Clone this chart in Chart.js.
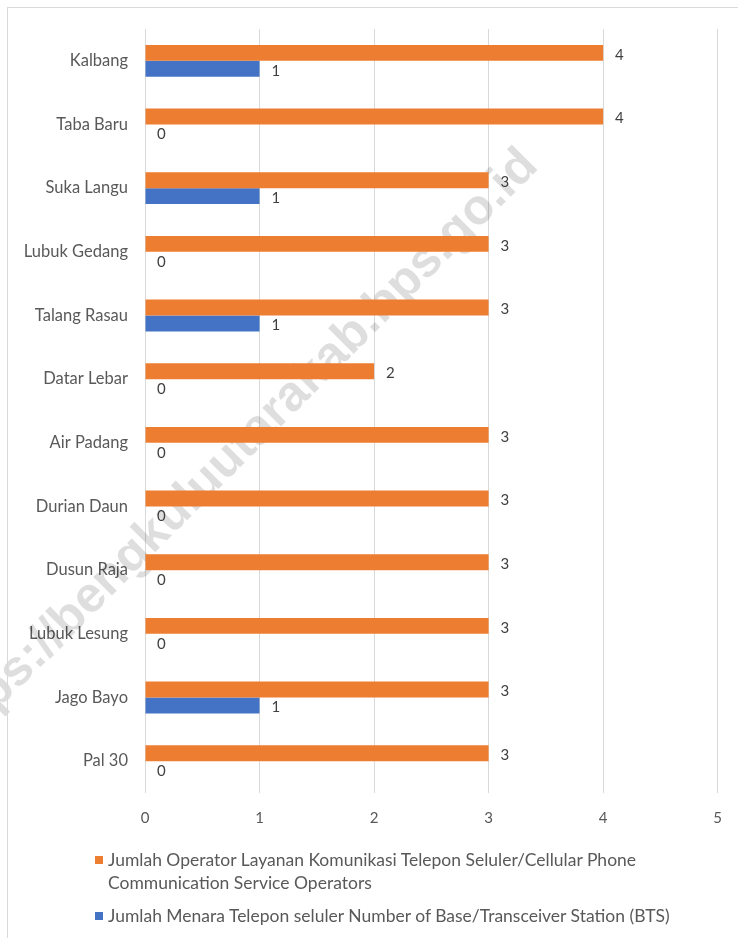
<!DOCTYPE html>
<html>
<head>
<meta charset="utf-8">
<script src="https://cdn.jsdelivr.net/npm/chart.js@4.4.1/dist/chart.umd.min.js"></script>
<style>
  html, body { margin: 0; padding: 0; background: #fff; }
  #wrap { position: relative; width: 738px; height: 938px; overflow: hidden; }
  #frame { position: absolute; left: 7px; top: 7px; right: -2px; bottom: -2px;
           border-top: 1px solid #d9d9d9; border-left: 1px solid #d9d9d9; pointer-events: none; }
  canvas { position: absolute; left: 0; top: 0; }
  #legend { position: absolute; left: 95px; top: 848px; width: 615px;
            font-family: Lato, "Liberation Sans", sans-serif; font-size: 17.5px; color: #595959; }
  .item { display: flex; align-items: flex-start; margin-bottom: 10px; }
  .sw { width: 8px; height: 8px; margin-top: 8px; margin-right: 5px; flex: none; }
  .txt { line-height: 23px; }
</style>
</head>
<body>
<div id="wrap">
  <canvas id="c" width="738" height="938"></canvas>
  <div id="frame"></div>
  <div id="legend"></div>
</div>
<script>
const categories = ['Kalbang','Taba Baru','Suka Langu','Lubuk Gedang','Talang Rasau','Datar Lebar','Air Padang','Durian Daun','Dusun Raja','Lubuk Lesung','Jago Bayo','Pal 30'];
const operatorCounts = [4,4,3,3,3,2,3,3,3,3,3,3];
const btsCounts = [1,0,1,0,1,0,0,0,0,0,1,0];
const seriesLabels = [
  'Jumlah Operator Layanan Komunikasi Telepon Seluler/Cellular Phone Communication Service Operators',
  'Jumlah Menara Telepon seluler Number of Base/Transceiver Station (BTS)'
];
const seriesColors = ['#ED7D31', '#4472C4'];
const xMin = 0, xMax = 5, xStep = 1;
const watermarkText = 'https://bengkuluutarakab.bps.go.id';

const FONT = 'Lato, "Liberation Sans", sans-serif';
const TEXT = '#595959';

const watermark = {
  id: 'watermark',
  beforeDatasetsDraw(chart) {
    const ctx = chart.ctx;
    ctx.save();
    ctx.translate(530, 158);
    ctx.rotate(-45 * Math.PI / 180);
    ctx.font = 'bold 50px "Liberation Sans", Arial, sans-serif';
    ctx.fillStyle = 'rgba(0,0,0,0.13)';
    ctx.textAlign = 'right';
    ctx.textBaseline = 'middle';
    ctx.fillText(watermarkText, 0, 0);
    ctx.restore();
  }
};

const valueLabels = {
  id: 'valueLabels',
  afterDatasetsDraw(chart) {
    const ctx = chart.ctx;
    ctx.save();
    ctx.font = '15px ' + FONT;
    ctx.fillStyle = '#404040';
    ctx.textAlign = 'left';
    ctx.textBaseline = 'middle';
    chart.data.datasets.forEach((ds, i) => {
      chart.getDatasetMeta(i).data.forEach((el, j) => {
        ctx.fillText(String(ds.data[j]), el.x + 12, el.y + 2);
      });
    });
    ctx.restore();
  }
};

const chart = new Chart(document.getElementById('c'), {
  type: 'bar',
  data: {
    labels: categories,
    datasets: [
      { label: seriesLabels[0], data: operatorCounts, backgroundColor: seriesColors[0], borderWidth: 0 },
      { label: seriesLabels[1], data: btsCounts, backgroundColor: seriesColors[1], borderWidth: 0 }
    ]
  },
  options: {
    indexAxis: 'y',
    responsive: false,
    animation: false,
    devicePixelRatio: 1,
    categoryPercentage: 0.5,
    barPercentage: 1.0,
    layout: { padding: { left: 0, right: 20, top: 29, bottom: 105 } },
    plugins: { legend: { display: false }, tooltip: { enabled: false } },
    scales: {
      x: {
        min: xMin, max: xMax,
        ticks: { stepSize: xStep, padding: 16, color: TEXT, font: { family: FONT, size: 15 } },
        grid: { color: '#d9d9d9', drawTicks: false, lineWidth: 1 },
        border: { display: false },
        afterFit(s) { s.height = 40; }
      },
      y: {
        ticks: { padding: 17, color: TEXT, font: { family: FONT, size: 16.5 } },
        grid: { display: false, drawTicks: false },
        border: { display: false },
        afterFit(s) { s.width = 145; }
      }
    }
  },
  plugins: [watermark, valueLabels]
});

const legend = document.getElementById('legend');
seriesLabels.forEach((lab, i) => {
  const item = document.createElement('div');
  item.className = 'item';
  const sw = document.createElement('div');
  sw.className = 'sw';
  sw.style.background = seriesColors[i];
  const t = document.createElement('div');
  t.className = 'txt';
  t.textContent = lab;
  item.appendChild(sw);
  item.appendChild(t);
  legend.appendChild(item);
});
</script>
</body>
</html>
